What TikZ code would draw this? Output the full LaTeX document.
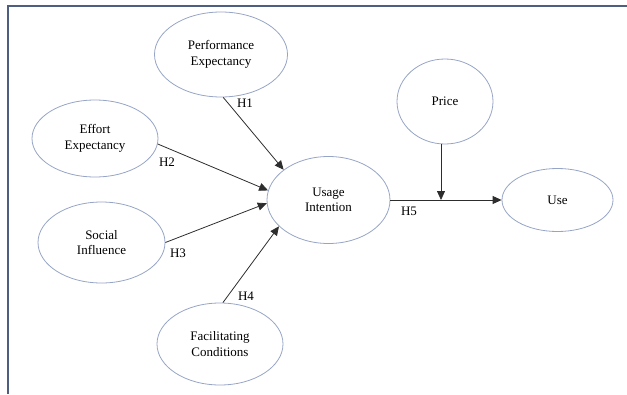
\documentclass[tikz,border=0pt]{standalone}
\usepackage{fontspec}
\setmainfont{Liberation Serif}
\usepackage{xcolor}
\usetikzlibrary{arrows.meta, positioning, shapes.geometric}
\definecolor{ovalblue}{RGB}{150, 165, 198}
\definecolor{framesl}{RGB}{78, 94, 128}
\definecolor{arrowgray}{RGB}{45, 45, 45}
\begin{document}
\begin{tikzpicture}[x=1pt, y=-1pt,
  construct/.style={ellipse, draw=ovalblue, line width=0.8pt, inner sep=0pt,
                    font=\fontsize{13}{15.5}\selectfont, align=center},
  hyp/.style={font=\fontsize{13}{15.5}\selectfont, inner sep=0pt},
  patharr/.style={-{Triangle[length=9pt, width=8pt]}, line width=0.8pt, arrowgray},
  framel/.style={line width=2pt, framesl},
]
\useasboundingbox (0,0) rectangle (627,394);
\draw[framel] (8,394) -- (8,5.5) -- (627,5.5);
% constructs
\node[construct, minimum width=133, minimum height=85] (PE) at (221,54.5) {Performance\\Expectancy};
\node[construct, minimum width=126, minimum height=77] (EE) at (95,138.5) {Effort\\Expectancy};
\node[construct, minimum width=127, minimum height=81] (SI) at (101.5,242.5) {Social\\Influence};
\node[construct, minimum width=126, minimum height=82] (FC) at (220,344) {Facilitating\\Conditions};
\node[construct, minimum width=123, minimum height=87] (UI) at (328.5,200) {Usage\\Intention};
\node[construct, minimum width=96, minimum height=85] (PR) at (445,101.5) {Price};
\node[construct, minimum width=111, minimum height=63] (US) at (557.5,200) {Use};
% paths
\draw[patharr] (PE.-87) -- (UI.146);
\draw[patharr] (EE.-5)  -- (UI.171);
\draw[patharr] (SI.0)   -- (UI.183);
\draw[patharr] (FC.86)  -- (UI.208);
\draw[patharr] (UI.east) -- (US.west);
\coordinate (mod) at (441,200);
\draw[patharr] (PR.south -| mod) -- (mod);
% hypotheses
\node[hyp] (h1) at (245,103) {H1};
\node[hyp] (h2) at (167,162) {H2};
\node[hyp] (h3) at (178,253) {H3};
\node[hyp] (h4) at (246,296) {H4};
\node[hyp] (h5) at (409,211) {H5};
\end{tikzpicture}
\end{document}
